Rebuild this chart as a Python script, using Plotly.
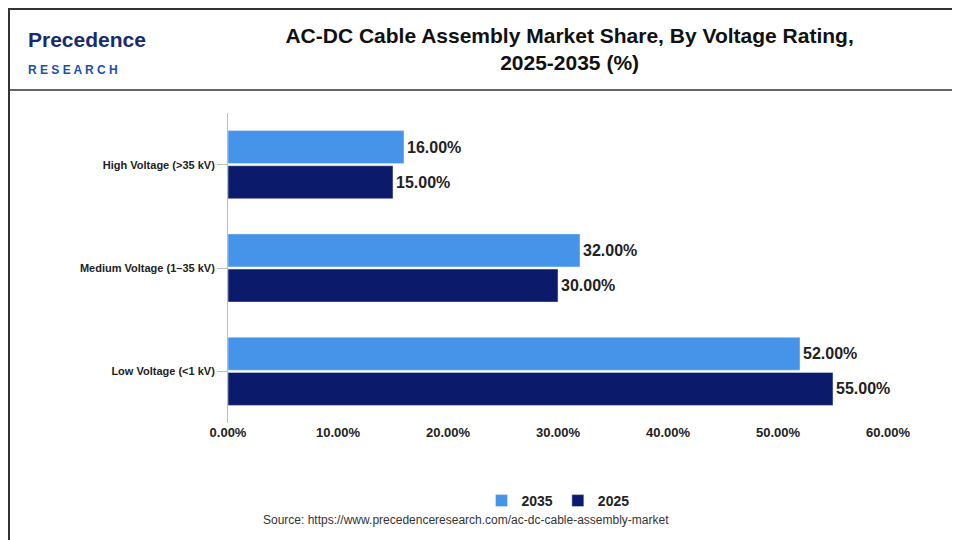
import plotly.graph_objects as go

categories = ["Low Voltage (<1 kV)", "Medium Voltage (1–35 kV)", "High Voltage (>35 kV)"]
v2035 = [52, 32, 16]
v2025 = [55, 30, 15]
ticks = [0, 10, 20, 30, 40, 50, 60]

W, H, L, R, T, B = 960, 540, 220, 80, 105, 125
pw, ph = W - L - R, H - T - B

lbl = dict(size=16, color="#222", family="Liberation Sans", weight="bold")
fig = go.Figure()
fig.add_trace(go.Bar(y=categories, x=v2025, name="2025", orientation="h",
    marker_color="#0c1a6b", text=[f"{v:.2f}%" for v in v2025], textposition="outside",
    textfont=lbl, cliponaxis=False))
fig.add_trace(go.Bar(y=categories, x=v2035, name="2035", orientation="h",
    marker_color="#4693ea", text=[f"{v:.2f}%" for v in v2035], textposition="outside",
    textfont=lbl, cliponaxis=False))

fig.update_layout(
    width=W, height=H, barmode="group", bargap=0.32, bargroupgap=0.06,
    plot_bgcolor="white", paper_bgcolor="white",
    margin=dict(l=L, r=R, t=T, b=B, autoexpand=False),
    font=dict(family="Liberation Sans, Arial", color="#222"),
    title=dict(text="<b>AC-DC Cable Assembly Market Share, By Voltage Rating,<br>2025-2035 (%)</b>",
               x=0.585, xanchor="center", y=0.935, font=dict(size=21, color="#111")),
    legend=dict(orientation="h", x=0.5, xanchor="center", y=-0.2, traceorder="reversed",
                font=dict(size=14, family="Liberation Sans", color="#222", weight="bold")),
    xaxis=dict(range=[0, 60], tickvals=ticks, ticktext=[f"{t:.2f}%" for t in ticks],
               showgrid=False, zeroline=False, automargin=False,
               tickfont=dict(size=13, color="#222", weight="bold"), ticks="", showline=False),
    yaxis=dict(showline=True, linecolor="#bbb", ticks="outside", ticklen=10, tickcolor="#bbb",
               automargin=False, tickfont=dict(size=11, color="#222", weight="bold"), showgrid=False),
    shapes=[
        dict(type="line", xref="paper", yref="paper", x0=-L/pw, x1=(W-L)/pw,
             y0=(H-B-82)/ph, y1=(H-B-82)/ph, line=dict(color="#333", width=1.5)),
        dict(type="rect", xref="paper", yref="paper", x0=-(L-1)/pw, x1=(W-L-1)/pw,
             y0=-(B-1)/ph, y1=(H-B-1)/ph, line=dict(color="#333", width=2)),
    ],
    annotations=[
        dict(text="Source: https://www.precedenceresearch.com/ac-dc-cable-assembly-market",
             xref="paper", yref="paper", x=0.36, y=-(521-(H-B))/ph, showarrow=False,
             font=dict(size=12, color="#333")),
        dict(text="<b><span style='color:#1a2a6c'>Precedence</span></b><br><span style='color:#1a4fb0;font-size:12px'><b>R E S E A R C H</b></span>",
             xref="paper", yref="paper", x=-(L-18)/pw, y=(H-B-18)/ph, xanchor="left", yanchor="top",
             showarrow=False, align="left", font=dict(size=21, family="Liberation Sans")),
    ],
)
fig.write_html("out.html")
